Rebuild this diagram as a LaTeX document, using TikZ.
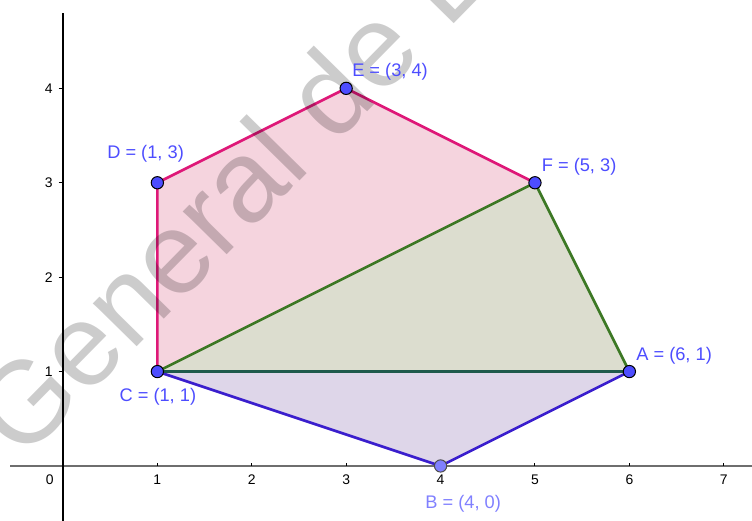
\documentclass[tikz,border=0pt]{standalone}
\usepackage{fontspec}
\setmainfont{Liberation Sans}
\definecolor{ptblue}{RGB}{77,77,255}
\definecolor{ptlight}{RGB}{128,128,255}
\definecolor{pinkline}{RGB}{222,24,120}
\definecolor{pinkfill}{RGB}{245,212,222}
\definecolor{greenline}{RGB}{60,120,36}
\definecolor{greenfill}{RGB}{220,221,207}
\definecolor{blueline}{RGB}{58,30,205}
\definecolor{bluefill}{RGB}{222,214,233}
\definecolor{tealline}{RGB}{31,90,76}
\definecolor{axisgray}{RGB}{110,110,110}
\tikzset{
  pt/.style={circle,fill=ptblue,draw=black,line width=0.6pt,inner sep=0pt,minimum size=7.4pt},
  lbl/.style={anchor=base west,text=ptblue,font=\fontsize{11}{13}\selectfont,inner sep=0pt},
  ticklbl/.style={font=\fontsize{8.4}{10}\selectfont,inner sep=0pt},
  edge/.style={line width=1.6pt,line join=round},
}
\begin{document}
\begin{tikzpicture}[x=2cm,y=2cm]
  \useasboundingbox (-0.667,-0.583) rectangle (7.299,4.936);
  \coordinate (pA) at (6,1);
  \coordinate (pB) at (4,0);
  \coordinate (pC) at (1,1);
  \coordinate (pD) at (1,3);
  \coordinate (pE) at (3,4);
  \coordinate (pF) at (5,3);
  % filled regions
  \fill[pinkfill] (pC)--(pD)--(pE)--(pF)--cycle;
  \fill[greenfill] (pC)--(pA)--(pF)--cycle;
  \fill[bluefill] (pC)--(pB)--(pA)--cycle;
  % axes
  \draw[axisgray,line width=1.2pt] (-0.56,0) -- (7.299,0);
  \draw[black,line width=0.7pt] (0,-0.583) -- (0,4.8);
  \foreach \x in {1,...,7} {
    \draw[black,line width=0.6pt] (\x,0) -- (\x,0.035);
    \node[ticklbl] (tx\x) at (\x,-0.148) {\x};
  }
  \foreach \y in {1,...,4} {
    \draw[black,line width=0.6pt] (-0.045,\y) -- (0,\y);
    \node[ticklbl,anchor=east] (ty\y) at (-0.106,\y) {\y};
  }
  \node[ticklbl] (t0) at (-0.14,-0.148) {0};
  % edges
  \draw[edge,pinkline] (pC)--(pD)--(pE)--(pF);
  \draw[edge,greenline] (pC)--(pF)--(pA);
  \draw[edge,blueline] (pC)--(pB)--(pA);
  \draw[edge,tealline] (pC)--(pA);
  % watermark
  \begin{scope}
    \clip (-0.667,-0.583) rectangle (7.299,4.936);
    \node[rotate=45.5,anchor=base west,inner sep=0pt,text=black,text opacity=0.2,
      font=\fontsize{70}{74}\selectfont] (wm) at (-0.43,0.03) {General de B};
  \end{scope}
  % points
  \node[pt] (A) at (pA) {};
  \node[pt,fill=ptlight,draw=black!70] (B) at (pB) {};
  \node[pt] (C) at (pC) {};
  \node[pt] (D) at (pD) {};
  \node[pt] (E) at (pE) {};
  \node[pt] (F) at (pF) {};
  % labels
  \node[lbl] (lA) at (6.07,1.115) {A = (6, 1)};
  \node[lbl,text=ptlight] (lB) at (3.835,-0.448) {B = (4, 0)};
  \node[lbl] (lC) at (0.596,0.681) {C = (1, 1)};
  \node[lbl] (lD) at (0.466,3.252) {D = (1, 3)};
  \node[lbl] (lE) at (3.061,4.121) {E = (3, 4)};
  \node[lbl] (lF) at (5.069,3.118) {F = (5, 3)};
\end{tikzpicture}
\end{document}
